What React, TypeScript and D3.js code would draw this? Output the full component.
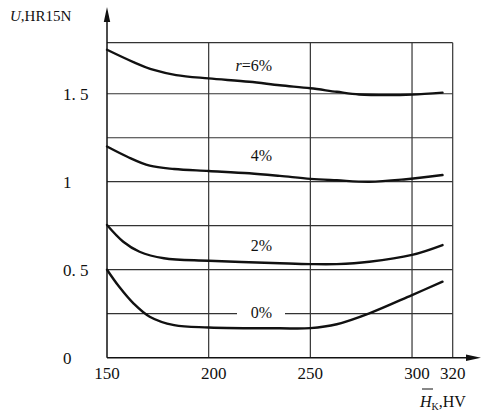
import React from "react";
import * as d3 from "d3";

const xTicks = [150, 200, 250, 300, 320];
const yTickLabels = [
  { v: 0, t: "0" },
  { v: 0.5, t: "0. 5" },
  { v: 1, t: "1" },
  { v: 1.5, t: "1. 5" },
];
const hGrid = [0.25, 0.5, 0.75, 1.0, 1.25, 1.5, 1.79];
const vGrid = [200, 250, 300, 320];

const x6 = [150, 163, 173, 184, 200, 220, 235, 250, 263, 274, 288, 300, 315];
const v6 = [1.75, 1.68, 1.635, 1.606, 1.587, 1.568, 1.548, 1.531, 1.511, 1.496, 1.492, 1.495, 1.506];
const x4 = [150, 160, 171, 183, 200, 220, 235, 250, 263, 279, 296, 315];
const v4 = [1.2, 1.142, 1.091, 1.072, 1.061, 1.048, 1.033, 1.016, 1.008, 1.0, 1.013, 1.038];
const x2 = [150, 158, 166, 178, 200, 235, 250, 263, 279, 300, 315];
const v2 = [0.754, 0.659, 0.602, 0.565, 0.551, 0.537, 0.532, 0.532, 0.545, 0.584, 0.64];
const x0 = [150, 156, 163, 171, 183, 200, 235, 250, 263, 279, 300, 315];
const v0 = [0.5, 0.403, 0.309, 0.233, 0.185, 0.172, 0.167, 0.168, 0.19, 0.252, 0.356, 0.432];

const series = [
  { xs: x6, vs: v6 },
  { xs: x4, vs: v4 },
  { xs: x2, vs: v2 },
  { xs: x0, vs: v0 },
];

const curveLabels = [
  { x: 250, v: 1.63, t: "6%", r: true },
  { x: 250, v: 1.12, t: "4%" },
  { x: 250, v: 0.605, t: "2%" },
  { x: 250, v: 0.225, t: "0%" },
];

const FONT = "'Times New Roman', 'Liberation Serif', 'DejaVu Serif', serif";
const INK = "#111";

export default function App() {
  const x = d3.scaleLinear().domain([150, 320]).range([107, 452.7]);
  const y = d3.scaleLinear().domain([0, 1.79]).range([357.7, 42.7]);
  const line = d3
    .line<[number, number]>()
    .x((d) => x(d[0]))
    .y((d) => y(d[1]))
    .curve(d3.curveCatmullRom.alpha(0.5));

  const x0px = x(150);
  const y0px = y(0);

  return (
    <svg
      width={482}
      height={419}
      style={{ position: "absolute", left: 0, top: 0, background: "#fff" }}
    >
      {hGrid.map((g) =>
        g === 0.25 ? (
          <g key={g}>
            <line x1={x(150)} x2={237} y1={y(g)} y2={y(g)} stroke="#333" strokeWidth={1.2} />
            <line x1={285} x2={x(320)} y1={y(g)} y2={y(g)} stroke="#333" strokeWidth={1.2} />
          </g>
        ) : (
          <line key={g} x1={x(150)} x2={x(320)} y1={y(g)} y2={y(g)} stroke="#333" strokeWidth={1.2} />
        )
      )}
      {vGrid.map((g) => (
        <line key={g} x1={x(g)} x2={x(g)} y1={y(0)} y2={y(1.79)} stroke="#333" strokeWidth={1.2} />
      ))}
      <line x1={x0px} x2={x0px} y1={y0px} y2={18} stroke={INK} strokeWidth={1.5} />
      <path d={`M${x0px},7 L${x0px - 3.2},22 L${x0px + 3.2},22 Z`} fill={INK} />
      <line x1={x0px} x2={470} y1={y0px} y2={y0px} stroke={INK} strokeWidth={1.5} />
      <path d={`M481,${y0px} L466,${y0px - 3.2} L466,${y0px + 3.2} Z`} fill={INK} />

      {series.map((s, i) => (
        <path
          key={i}
          d={line(s.xs.map((xv, j) => [xv, s.vs[j]] as [number, number])) || ""}
          fill="none"
          stroke={INK}
          strokeWidth={2.4}
          strokeLinecap="round"
        />
      ))}

      {curveLabels.map((c, i) => (
        <text
          key={i}
          x={272}
          y={y(c.v)}
          textAnchor="end"
          fontFamily={FONT}
          fontSize={16}
          fill={INK}
        >
          {c.r ? (
            <>
              <tspan fontStyle="italic">r</tspan>
              <tspan>=</tspan>
            </>
          ) : null}
          {c.t}
        </text>
      ))}

      {yTickLabels.map((t) => (
        <text
          key={t.v}
          x={63}
          y={y(t.v) + 6}
          fontFamily={FONT}
          fontSize={17}
          fill={INK}
        >
          {t.t}
        </text>
      ))}

      {xTicks.map((t) => (
        <text
          key={t}
          x={x(t) + (t === 200 ? 5 : t === 300 ? 5 : 0)}
          y={379}
          textAnchor="middle"
          fontFamily={FONT}
          fontSize={17}
          fill={INK}
        >
          {t}
        </text>
      ))}

      <text x={10} y={21} fontFamily={FONT} fontSize={15} fill={INK}>
        <tspan fontStyle="italic">U</tspan>
        <tspan>,HR15N</tspan>
      </text>
      <line x1={422} x2={433} y1={389} y2={389} stroke={INK} strokeWidth={1} />
      <text x={420} y={407} fontFamily={FONT} fontSize={16} fill={INK}>
        <tspan fontStyle="italic">H</tspan>
        <tspan fontSize={10} dy={3}>K</tspan>
        <tspan dy={-3}>,HV</tspan>
      </text>
    </svg>
  );
}
